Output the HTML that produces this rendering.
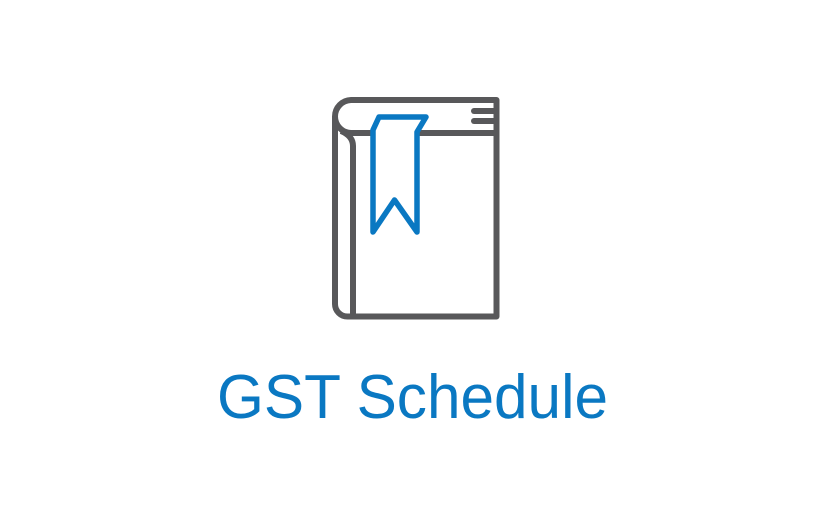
<!DOCTYPE html>
<html>
<head>
<meta charset="utf-8">
<style>
  html, body { margin: 0; padding: 0; background: #ffffff; }
  body { width: 833px; height: 514px; overflow: hidden; }
  svg { display: block; }
</style>
</head>
<body>
<svg width="833" height="514" viewBox="0 0 833 514">
  <rect x="0" y="0" width="833" height="514" fill="#ffffff"/>
  <g fill="none" stroke="#58585a" stroke-width="6" stroke-linejoin="round">
    <path
      d="M496.5,100 L351,100 A16.5,16.5 0 0 0 335,116.5 L335,304 A12.5,12.5 0 0 0 347.5,316.5 L496.5,316.5 Z"/>
    <path
      d="M496.5,133 L351,133 A16.5,16.5 0 0 1 335,116.5"/>
    <path
      d="M341,131 Q353,136 353,146 L353,316.5"/>
    <line x1="474" y1="111" x2="496" y2="111" stroke-linecap="round"/>
    <line x1="474" y1="121" x2="496" y2="121" stroke-linecap="round"/>
  </g>
  <path
    d="M379,117 L373,130 L373,232 L394.5,200 L417,232 L417,132 L426,117 Z"
    fill="#ffffff" stroke="#0a78c2" stroke-width="5.5" stroke-linejoin="round"/>
  <text x="217" y="418"
    font-family="'Liberation Sans', sans-serif" font-size="62" fill="#0a78c2"
    textLength="391" lengthAdjust="spacingAndGlyphs">GST Schedule</text>
</svg>
</body>
</html>
